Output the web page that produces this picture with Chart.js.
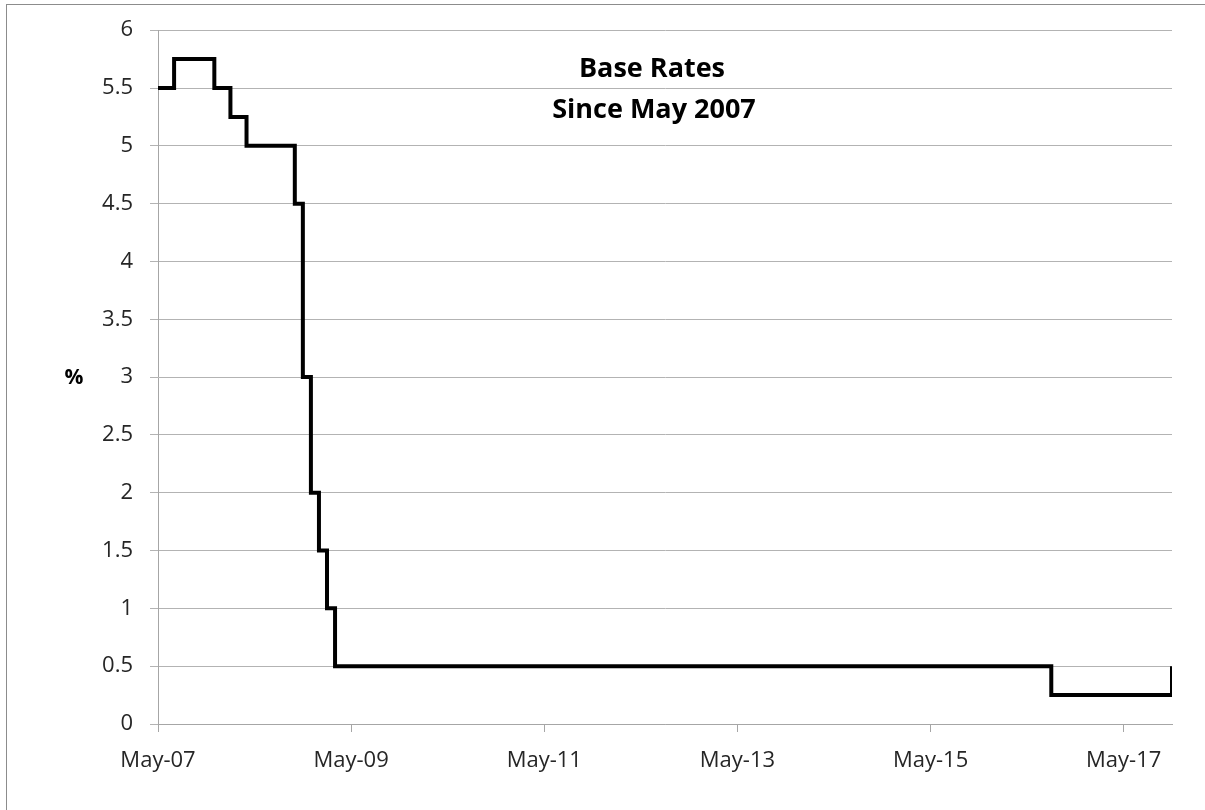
<!DOCTYPE html>
<html>
<head>
<meta charset="utf-8">
<script src="https://cdn.jsdelivr.net/npm/chart.js@4.4.1/dist/chart.umd.min.js"></script>
<style>
  body { margin: 0; background: #fff; overflow: hidden; }
  #frame { position: absolute; left: 6px; top: 4px; width: 1400px; height: 1000px; border: 1px solid #8c8c8c; }
  #baseChart { position: absolute; left: 0; top: 0; }
</style>
</head>
<body>
<div id="frame"></div>
<canvas id="baseChart" width="1205" height="810"></canvas>
<script>
// Bank rate changes (month of change) and the new rate
const changeMonths = ['2007-05', '2007-07', '2007-12', '2008-02', '2008-04', '2008-10', '2008-11',
                      '2008-12', '2009-01', '2009-02', '2009-03', '2016-08', '2017-11'];
const baseRates = [5.5, 5.75, 5.5, 5.25, 5.0, 4.5, 3.0, 2.0, 1.5, 1.0, 0.5, 0.25, 0.5];
const xTickLabels = ['May-07', 'May-09', 'May-11', 'May-13', 'May-15', 'May-17'];
const titleLines = ['Base Rates', 'Since May 2007'];

// months counted from May 2007
function monthIndex(s) {
  const [y, m] = s.split('-').map(Number);
  return (y - 2007) * 12 + (m - 5);
}

const points = changeMonths.map((d, i) => ({ x: monthIndex(d), y: baseRates[i] }));
const lastMonth = monthIndex(changeMonths[changeMonths.length - 1]);

const FONT = "'Open Sans', sans-serif";

const textPlugin = {
  id: 'textPlugin',
  afterDraw(chart) {
    const ctx = chart.ctx;
    ctx.save();
    ctx.fillStyle = '#000';
    ctx.textAlign = 'center';
    ctx.textBaseline = 'alphabetic';
    ctx.font = "bold 27px " + FONT;
    ctx.fillText(titleLines[0], 652, 77);
    ctx.fillText(titleLines[1], 654, 118);
    ctx.font = "bold 21px " + FONT;
    ctx.textBaseline = 'middle';
    ctx.fillText('%', 74, 378);
    ctx.restore();
  }
};

new Chart(document.getElementById('baseChart'), {
  type: 'line',
  data: {
    datasets: [{
      data: points,
      borderColor: '#000',
      borderWidth: 4,
      stepped: true,
      pointRadius: 0,
      fill: false
    }]
  },
  options: {
    responsive: false,
    animation: false,
    devicePixelRatio: 1,
    layout: { padding: { top: 26, right: 33, left: 0, bottom: 0 } },
    plugins: {
      legend: { display: false },
      tooltip: { enabled: false }
    },
    scales: {
      x: {
        type: 'linear',
        min: 0,
        max: lastMonth,
        afterBuildTicks(scale) {
          scale.ticks = xTickLabels.map((l, i) => ({ value: i * 24 }));
        },
        afterFit(scale) { scale.height = 86; },
        ticks: {
          callback: (v) => xTickLabels[v / 24],
          color: '#262626',
          font: { family: FONT, size: 22 },
          padding: 16,
          maxRotation: 0,
          autoSkip: false
        },
        grid: { drawOnChartArea: false, drawTicks: true, tickLength: 8, color: '#a6a6a6' },
        border: { color: '#a6a6a6', width: 1 }
      },
      y: {
        min: 0,
        max: 6,
        afterFit(scale) { scale.width = 158; },
        ticks: {
          stepSize: 0.5,
          callback: (v) => String(v),
          color: '#262626',
          font: { family: FONT, size: 22 },
          padding: 17
        },
        grid: { color: '#b3b3b3', tickLength: 8 },
        border: { color: '#a6a6a6', width: 1 }
      }
    }
  },
  plugins: [textPlugin]
});
</script>
</body>
</html>
